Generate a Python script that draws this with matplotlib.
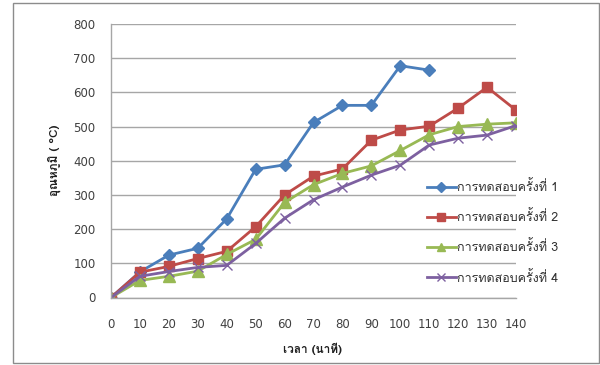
import logging
logging.getLogger('matplotlib.font_manager').setLevel(logging.ERROR)
import matplotlib
matplotlib.use('Agg')
import matplotlib.pyplot as plt
from matplotlib import font_manager
from matplotlib.ft2font import FT2Font
from matplotlib.patches import Rectangle

# ---- data ----
time_min = [0, 10, 20, 30, 40, 50, 60, 70, 80, 90, 100, 110, 120, 130, 140]
test1 = [0, 75, 124, 144, 230, 375, 388, 512, 562, 562, 678, 665]
test2 = [0, 74, 91, 114, 135, 207, 300, 355, 376, 460, 490, 501, 554, 615, 548]
test3 = [0, 50, 62, 77, 126, 170, 278, 330, 363, 385, 430, 476, 500, 507, 511]
test4 = [0, 62, 76, 88, 94, 158, 232, 286, 323, 358, 387, 446, 466, 475, 503]
series_names = ["การทดสอบครั้งที่ 1", "การทดสอบครั้งที่ 2",
                "การทดสอบครั้งที่ 3", "การทดสอบครั้งที่ 4"]
x_label = "เวลา (นาที)"
y_label = "อุณหภูมิ ( °C)"
y_ticks = [0, 100, 200, 300, 400, 500, 600, 700, 800]

# ---- find a font with Thai glyphs ----
thai_fams = []
for fe in font_manager.fontManager.ttflist:
    try:
        f = FT2Font(fe.fname)
        if f.get_char_index(ord('ก')) != 0 and fe.name not in thai_fams:
            thai_fams.append(fe.name)
    except Exception:
        pass
fams = thai_fams + ['DejaVu Sans']
plt.rcParams['font.family'] = fams

fig = plt.figure(figsize=(6.0, 3.65), dpi=100)
ax = fig.add_axes([111/600, 1-297.5/365, (516-111)/600, (297.5-24)/365])

styles = [
    dict(color='#4A7EBB', marker='D', ms=6),
    dict(color='#BE4B48', marker='s', ms=7.5),
    dict(color='#98B954', marker='^', ms=8),
    dict(color='#7D60A0', marker='x', ms=7, mew=1.0),
]
for data, name, st in zip([test1, test2, test3, test4], series_names, styles):
    ax.plot(time_min[:len(data)], data, lw=2.0, label=name,
            color=st['color'], marker=st['marker'], ms=st['ms'],
            mec=st['color'], mfc=st['color'], mew=st.get('mew', 1.0))

ax.set_xlim(0, 140)
ax.set_ylim(0, 800)
ax.set_xticks(time_min)
ax.set_yticks(y_ticks)
ax.tick_params(axis='both', length=0, labelsize=8.5, labelcolor='#404040')
ax.tick_params(axis='x', pad=15)
ax.tick_params(axis='y', pad=11)
for lbl in ax.get_xticklabels() + ax.get_yticklabels():
    lbl.set_family('DejaVu Sans')
ax.grid(axis='y', color='#A6A6A6', lw=1.0)
ax.set_axisbelow(True)
for s in ['top', 'right']:
    ax.spines[s].set_visible(False)
for s in ['left', 'bottom']:
    ax.spines[s].set_color('#A6A6A6')
    ax.spines[s].set_linewidth(1.0)

fig.text(313/600, 1-349/365, x_label, ha='center', va='center',
         fontsize=8.5, fontweight='bold', color='#202020')
fig.text(54/600, 1-160/365, y_label, ha='center', va='center', rotation=90,
         fontsize=8.5, fontweight='bold', color='#202020')

leg = ax.legend(loc='upper left', bbox_to_anchor=(427/600, 1-180/365),
                bbox_transform=fig.transFigure, frameon=False,
                fontsize=9, handlelength=2.3, handletextpad=0.1,
                labelspacing=1.3, borderaxespad=0, borderpad=0,
                markerscale=0.8)
for t in leg.get_texts():
    t.set_color('#303030')

fig.patches.append(Rectangle((13/600, 1-363/365), (599-13)/600, (363-3)/365,
                             transform=fig.transFigure, fill=False,
                             ec='#8C8C8C', lw=1.0))

fig.savefig('out.png', dpi=100)
